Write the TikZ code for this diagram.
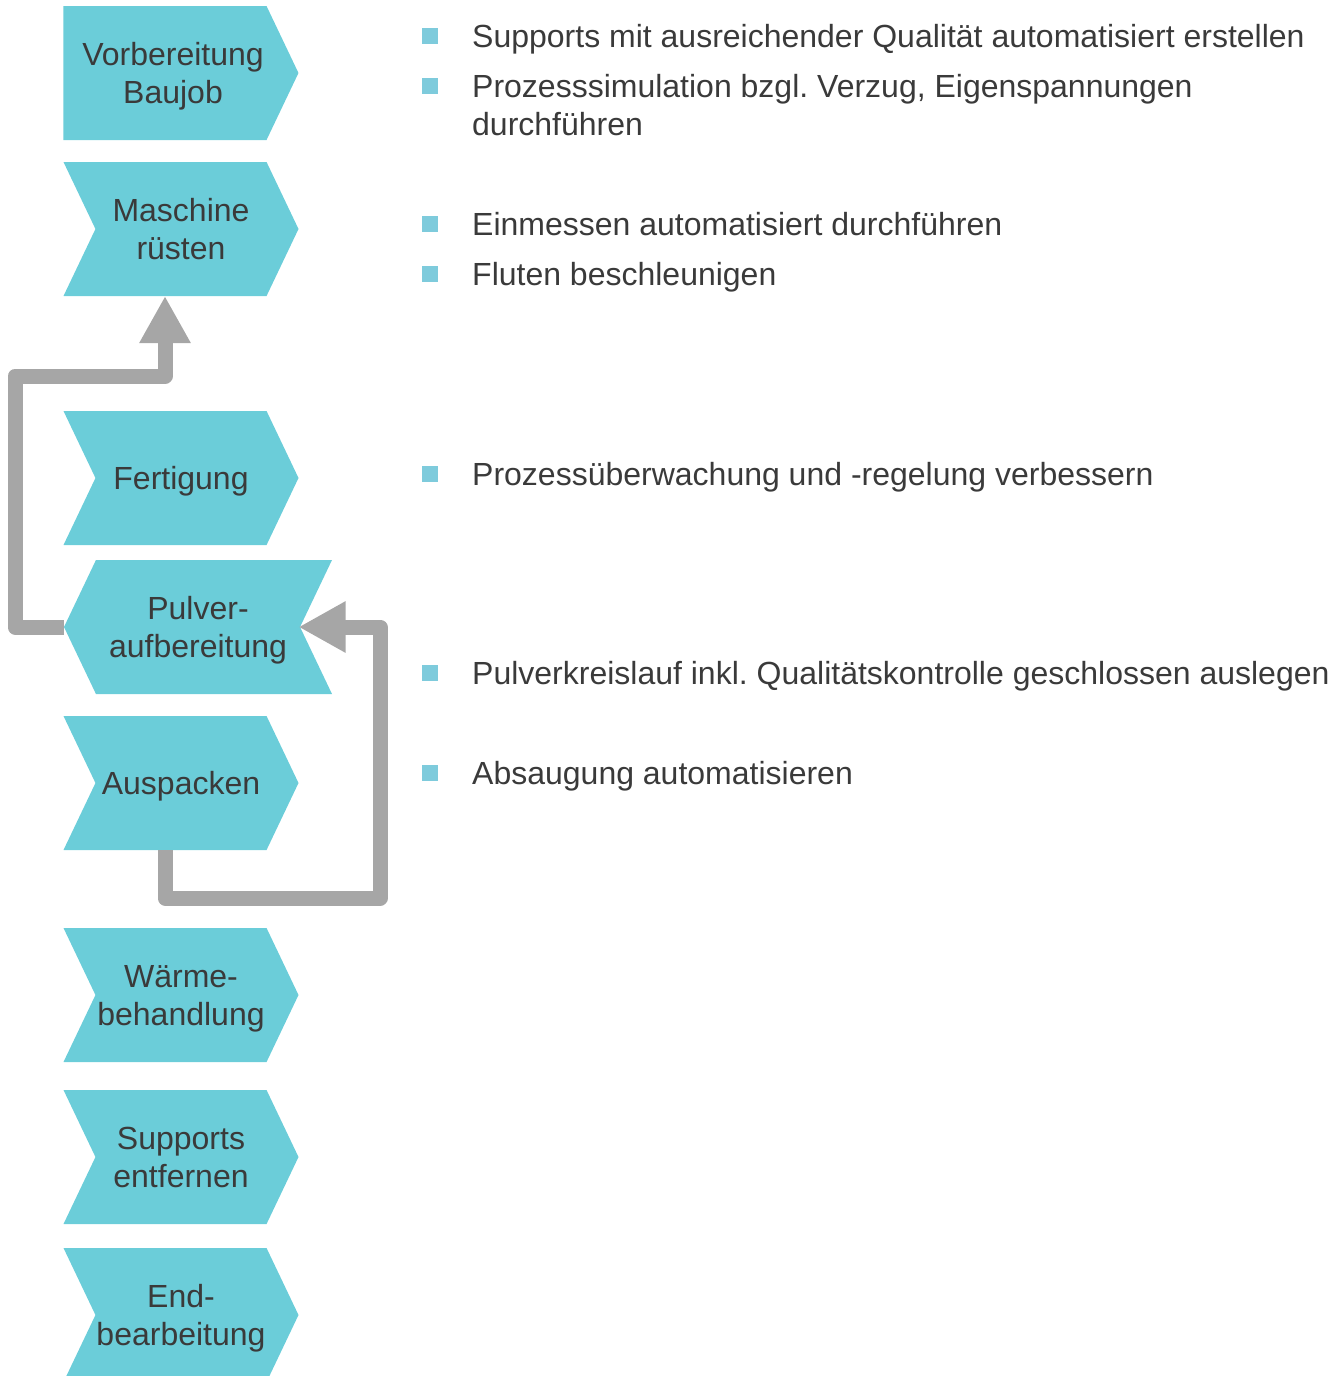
\documentclass[tikz,border=0pt]{standalone}
\usepackage{fontspec}
\setmainfont{Liberation Sans}
\usepackage{tikz}
\usetikzlibrary{shapes.symbols,arrows.meta,positioning,calc}
\definecolor{chevcol}{HTML}{6BCDD9}
\definecolor{bullcol}{HTML}{7ECBDC}
\definecolor{flowcol}{HTML}{A6A6A6}
\definecolor{txtcol}{HTML}{3A3A3A}
\frenchspacing
\tikzset{
	chev/.style={signal, signal to=east, signal from=west, signal pointer angle=129, fill=chevcol, minimum width=235pt, minimum height=134pt, inner sep=0pt, outer sep=0pt, text depth=0pt, align=center, text=txtcol, font=\fontsize{32}{38}\selectfont},
	bull/.style={rectangle, fill=bullcol, minimum size=16pt, inner sep=0pt},
	bullettext/.style={anchor=base west, inner sep=0pt, align=left, text=txtcol, font=\fontsize{32}{38}\selectfont},
	backflow/.style={draw=flowcol, line width=15pt, line join=round, -{Triangle[width=48pt,length=47pt]}}
}
\begin{document}
\begin{tikzpicture}[x=1pt,y=-1pt]
		\useasboundingbox (0,0) rectangle (1342,1376);
		% process chain
		\node at (165,73) [chev, signal from=nowhere] (V) {\hspace*{16pt}Vorbereitung\\\hspace*{16pt}Baujob};
		\node at (181,229) [chev] (M) {Maschine\\rüsten};
		\node at (181,478) [chev] (F) {Fertigung};
		\node at (198,627) [chev, signal to=west, signal from=east, minimum width=268pt] (P) {Pulver-\\aufbereitung};
		\node at (181,783) [chev] (A) {Auspacken};
		\node at (181,995) [chev] (W) {Wärme-\\behandlung};
		\node at (181,1157) [chev] (S) {Supports\\entfernen};
		\node at (181,1315) [chev] (E) {End-\\bearbeitung};
		% powder loops
		\draw [backflow] (P.west) -- (15,627) -- (15,376) -| ([xshift=-16pt]M.south);
		\draw [backflow] ([xshift=-16pt]A.south) |- (380,898) -- (380,627) -- (F.east |- P.center);
		% measures
		\node at (430,36) [bull] (b1) {};
		\node at (472,47) [bullettext] (t1) {Supports mit ausreichender Qualität automatisiert erstellen};
		\node at (430,86) [bull] (b2) {};
		\node at (472,135) [bullettext] (t2) {Prozesssimulation bzgl. Verzug, Eigenspannungen\\durchführen};
		\node at (430,224) [bull] (b3) {};
		\node at (472,235) [bullettext] (t3) {Einmessen automatisiert durchführen};
		\node at (430,274) [bull] (b4) {};
		\node at (472,285) [bullettext] (t4) {Fluten beschleunigen};
		\node at (430,474) [bull] (b5) {};
		\node at (472,485) [bullettext] (t5) {Prozessüberwachung und -regelung verbessern};
		\node at (430,673) [bull] (b6) {};
		\node at (472,684) [bullettext] (t6) {Pulverkreislauf inkl. Qualitätskontrolle geschlossen auslegen};
		\node at (430,773) [bull] (b7) {};
		\node at (472,784) [bullettext] (t7) {Absaugung automatisieren};
\end{tikzpicture}
\end{document}
